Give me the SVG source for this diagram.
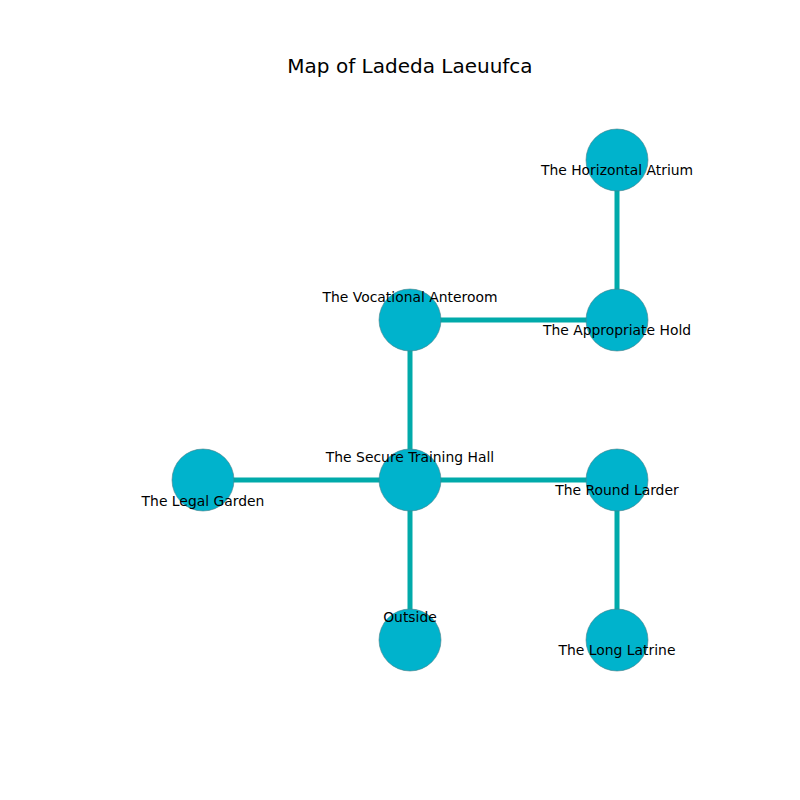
<svg xmlns="http://www.w3.org/2000/svg" width="800" height="800" viewBox="0 0 800 800">
<style>
.e{stroke:#00aaaa;stroke-width:5;fill:none}
.n{fill:#00b3cc;stroke:#4a7f88;stroke-width:0.6}
.l{font-family:"DejaVu Sans",sans-serif;font-size:13.9px;fill:#000;text-anchor:middle}
.t{font-family:"DejaVu Sans",sans-serif;font-size:20px;fill:#000;text-anchor:middle}
</style>
<rect width="800" height="800" fill="#fff"/>
<text class="t" x="410" y="73">Map of Ladeda Laeuufca</text>
<g id="edges">
<line class="e" x1="617" y1="160" x2="617" y2="320"/>
<line class="e" x1="410" y1="320" x2="617" y2="320"/>
<line class="e" x1="410" y1="320" x2="410" y2="480"/>
<line class="e" x1="203" y1="480" x2="410" y2="480"/>
<line class="e" x1="410" y1="480" x2="617" y2="480"/>
<line class="e" x1="617" y1="480" x2="617" y2="640"/>
<line class="e" x1="410" y1="480" x2="410" y2="640"/>
</g>
<g id="n1"><circle class="n" cx="617" cy="160" r="31"/><text class="l" x="617" y="175">The Horizontal Atrium</text></g>
<g id="n2"><circle class="n" cx="617" cy="320" r="31"/><text class="l" x="617" y="335">The Appropriate Hold</text></g>
<g id="n3"><circle class="n" cx="410" cy="320" r="31"/><text class="l" x="410" y="302">The Vocational Anteroom</text></g>
<g id="n4"><circle class="n" cx="410" cy="480" r="31"/><text class="l" x="410" y="462">The Secure Training Hall</text></g>
<g id="n5"><circle class="n" cx="203" cy="480" r="31"/><text class="l" x="203" y="506">The Legal Garden</text></g>
<g id="n6"><circle class="n" cx="617" cy="480" r="31"/><text class="l" x="617" y="495">The Round Larder</text></g>
<g id="n7"><circle class="n" cx="410" cy="640" r="31"/><text class="l" x="410" y="622">Outside</text></g>
<g id="n8"><circle class="n" cx="617" cy="640" r="31"/><text class="l" x="617" y="655">The Long Latrine</text></g>
</svg>
